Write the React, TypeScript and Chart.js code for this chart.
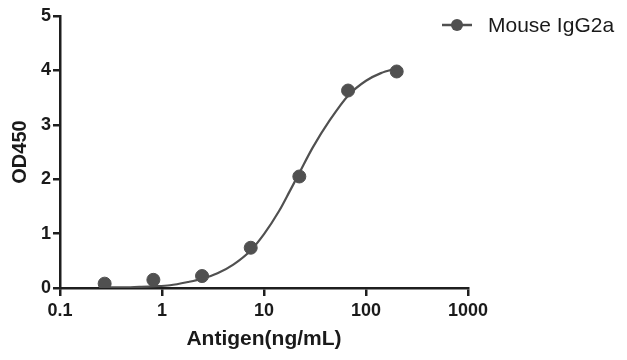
import React, { useEffect, useRef } from "react";
import { Chart, registerables } from "chart.js";

Chart.register(...registerables);

// Measured points (3-fold dilution series)
const antigenConc = [0.274, 0.823, 2.47, 7.41, 22.2, 66.7, 200];
const od450 = [0.08, 0.15, 0.22, 0.74, 2.05, 3.63, 3.98];

// Fitted curve
const curveX = [0.27, 0.4, 0.6, 0.82, 1.2, 1.8, 2.47, 3.5, 5, 7.4, 10, 14, 18, 22, 30, 44, 67, 100, 140, 200];
const curveY = [0.01, 0.01, 0.02, 0.03, 0.05, 0.11, 0.17, 0.27, 0.43, 0.69, 0.99, 1.41, 1.79, 2.1, 2.58, 3.08, 3.54, 3.81, 3.95, 4.04];

const xTickValues = [0.1, 1, 10, 100, 1000];
const xTickLabels = ["0.1", "1", "10", "100", "1000"];
const yTickValues = [0, 1, 2, 3, 4, 5];

const seriesName = "Mouse IgG2a";
const xTitle = "Antigen(ng/mL)";
const yTitle = "OD450";

const GREY = "#505050";
const AXIS = "#1e1e1e";

const legendPlugin = {
  id: "customLegend",
  afterDraw(chart: any) {
    const ctx = chart.ctx;
    ctx.save();
    const y = 25;
    ctx.strokeStyle = GREY;
    ctx.lineWidth = 2.5;
    ctx.beginPath();
    ctx.moveTo(442, y);
    ctx.lineTo(472, y);
    ctx.stroke();
    ctx.fillStyle = GREY;
    ctx.beginPath();
    ctx.arc(457, y, 6, 0, Math.PI * 2);
    ctx.fill();
    ctx.fillStyle = "#1a1a1a";
    ctx.font = "21px 'Liberation Sans', Arial, sans-serif";
    ctx.textBaseline = "middle";
    ctx.textAlign = "left";
    ctx.fillText(seriesName, 488, y + 1);
    ctx.restore();
  },
};

export default function App() {
  const ref = useRef<HTMLCanvasElement | null>(null);

  useEffect(() => {
    if (!ref.current) return;
    const font = { family: "'Liberation Sans', Arial, sans-serif", weight: "bold" as const };
    const chart = new Chart(ref.current, {
      type: "scatter",
      data: {
        datasets: [
          {
            label: seriesName + " fit",
            data: curveX.map((x, i) => ({ x, y: curveY[i] })),
            showLine: true,
            borderColor: GREY,
            borderWidth: 2.2,
            pointRadius: 0,
            tension: 0.4,
            cubicInterpolationMode: "monotone",
            fill: false,
          } as any,
          {
            label: seriesName,
            data: antigenConc.map((x, i) => ({ x, y: od450[i] })),
            showLine: false,
            backgroundColor: GREY,
            borderColor: GREY,
            pointRadius: 6.5,
            pointHoverRadius: 6.5,
          },
        ],
      },
      options: {
        animation: false,
        responsive: false,
        maintainAspectRatio: false,
        layout: { padding: { left: 8, right: 159, top: 16, bottom: 8 } },
        plugins: { legend: { display: false }, tooltip: { enabled: false } },
        scales: {
          x: {
            type: "logarithmic",
            min: 0.1,
            max: 1000,
            afterBuildTicks: (scale: any) => {
              scale.ticks = xTickValues.map((v) => ({ value: v }));
            },
            afterFit: (scale: any) => {
              scale.height = 64;
            },
            ticks: {
              autoSkip: false,
              maxRotation: 0,
              color: "#1a1a1a",
              padding: 4,
              font: { ...font, size: 18 },
              callback: (v: any) => {
                const i = xTickValues.indexOf(Number(v));
                return i >= 0 ? xTickLabels[i] : "";
              },
            },
            grid: { drawOnChartArea: false, drawTicks: true, tickLength: 8, color: AXIS, lineWidth: 2.5 },
            border: { display: true, color: AXIS, width: 2.5 },
            title: {
              display: true,
              text: xTitle,
              color: "#1a1a1a",
              font: { ...font, size: 21 },
              padding: { top: 4, bottom: 0 },
            },
          },
          y: {
            min: 0,
            max: 5,
            afterBuildTicks: (scale: any) => {
              scale.ticks = yTickValues.map((v) => ({ value: v }));
            },
            afterFit: (scale: any) => {
              scale.width = 52;
            },
            ticks: {
              color: "#1a1a1a",
              padding: 2,
              font: { ...font, size: 18 },
            },
            grid: { drawOnChartArea: false, drawTicks: true, tickLength: 7, color: AXIS, lineWidth: 2.5 },
            border: { display: true, color: AXIS, width: 2.5 },
            title: {
              display: true,
              text: yTitle,
              color: "#1a1a1a",
              font: { ...font, size: 20 },
              padding: { top: 0, bottom: 6 },
            },
          },
        },
      },
      plugins: [legendPlugin],
    });
    return () => chart.destroy();
  }, []);

  return (
    <div style={{ position: "fixed", left: 0, top: 0, width: 627, height: 360, background: "#fff" }}>
      <canvas ref={ref} width={627} height={360} style={{ width: 627, height: 360, display: "block" }} />
    </div>
  );
}
